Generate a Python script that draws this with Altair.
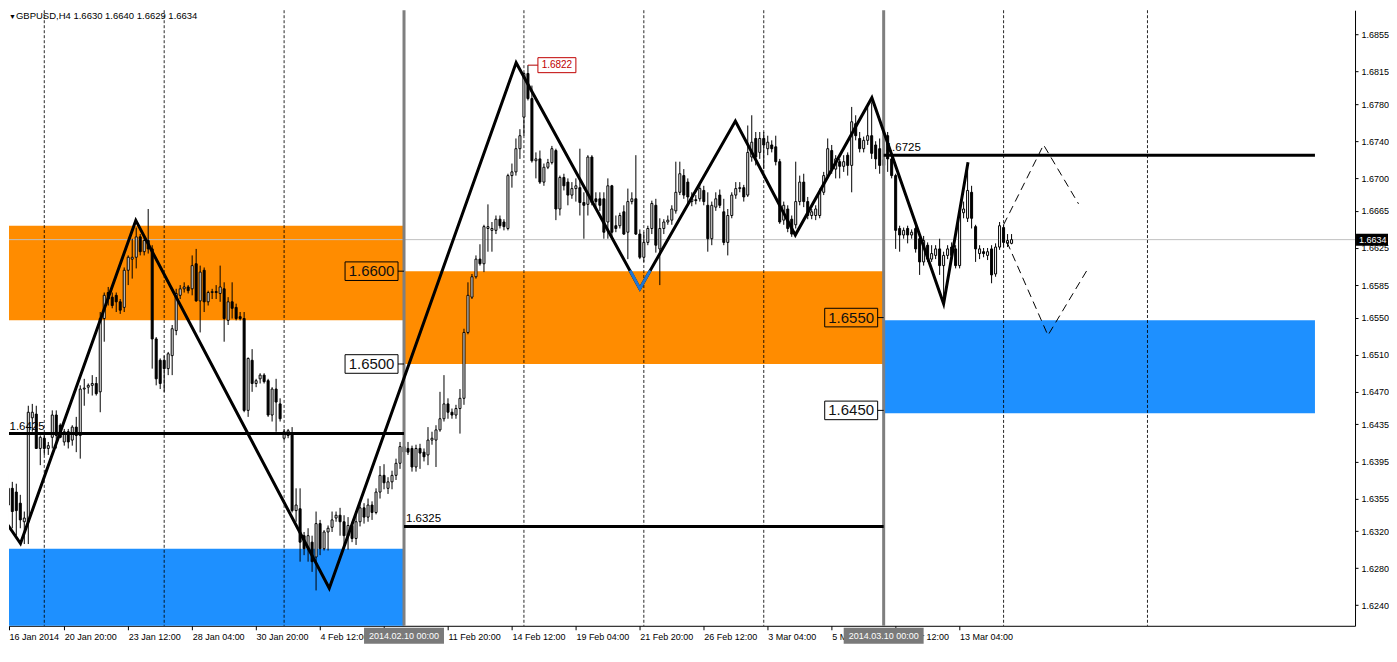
import altair as alt
import pandas as pd

FONT = "Liberation Sans"
W, H = 1347, 616

# ---------------- candles (H4 bars, index 0 = 16 Jan 2014 08:00) ----------------
OPEN = [
    1.6351, 1.6348, 1.6366, 1.6362, 1.6350, 1.6330, 1.6330, 1.6442, 1.6446, 1.6409,
    1.6420, 1.6409, 1.6421, 1.6445, 1.6434, 1.6416, 1.6427, 1.6418, 1.6432, 1.6423,
    1.6473, 1.6475, 1.6477, 1.6479, 1.6470, 1.6549, 1.6577, 1.6572, 1.6574, 1.6567,
    1.6561, 1.6601, 1.6613, 1.6615, 1.6637, 1.6621, 1.6633, 1.6624, 1.6527, 1.6504,
    1.6504, 1.6495, 1.6509, 1.6536, 1.6574, 1.6581, 1.6583, 1.6581, 1.6608, 1.6568,
    1.6601, 1.6567, 1.6577, 1.6578, 1.6576, 1.6581, 1.6547, 1.6567, 1.6561, 1.6551,
    1.6549, 1.6450, 1.6504, 1.6479, 1.6484, 1.6488, 1.6482, 1.6445, 1.6473, 1.6457,
    1.6420, 1.6423, 1.6425, 1.6342, 1.6344, 1.6315, 1.6301, 1.6308, 1.6292, 1.6328,
    1.6301, 1.6319, 1.6324, 1.6334, 1.6337, 1.6330, 1.6315, 1.6326, 1.6312, 1.6330,
    1.6345, 1.6335, 1.6348, 1.6340, 1.6362, 1.6380, 1.6366, 1.6373, 1.6380, 1.6393,
    1.6411, 1.6409, 1.6409, 1.6389, 1.6409, 1.6405, 1.6402, 1.6418, 1.6418, 1.6429,
    1.6441, 1.6457, 1.6448, 1.6445, 1.6452, 1.6463, 1.6534, 1.6572, 1.6594, 1.6613,
    1.6608, 1.6646, 1.6644, 1.6644, 1.6656, 1.6653, 1.6646, 1.6703, 1.6707, 1.6732,
    1.6766, 1.6813, 1.6786, 1.6719, 1.6721, 1.6696, 1.6712, 1.6717, 1.6730, 1.6667,
    1.6701, 1.6696, 1.6682, 1.6689, 1.6690, 1.6674, 1.6672, 1.6723, 1.6678, 1.6678,
    1.6678, 1.6653, 1.6692, 1.6649, 1.6649, 1.6664, 1.6642, 1.6675, 1.6678, 1.6640,
    1.6615, 1.6631, 1.6646, 1.6671, 1.6624, 1.6646, 1.6653, 1.6655, 1.6665, 1.6685,
    1.6703, 1.6696, 1.6675, 1.6677, 1.6678, 1.6687, 1.6671, 1.6635, 1.6669, 1.6682,
    1.6664, 1.6631, 1.6660, 1.6682, 1.6689, 1.6690, 1.6682, 1.6723, 1.6743, 1.6728,
    1.6743, 1.6732, 1.6736, 1.6734, 1.6718, 1.6655, 1.6667, 1.6656, 1.6650, 1.6675,
    1.6696, 1.6675, 1.6660, 1.6660, 1.6660, 1.6685, 1.6703, 1.6730, 1.6710, 1.6718,
    1.6713, 1.6725, 1.6714, 1.6759, 1.6743, 1.6732, 1.6741, 1.6746, 1.6736, 1.6732,
    1.6714, 1.6746, 1.6721, 1.6703, 1.6646, 1.6639, 1.6646, 1.6639, 1.6646, 1.6635,
    1.6610, 1.6628, 1.6613, 1.6617, 1.6624, 1.6606, 1.6617, 1.6626, 1.6624, 1.6606,
    1.6663, 1.6657, 1.6685, 1.6648, 1.6619, 1.6621, 1.6617, 1.6624, 1.6597, 1.6626,
    1.6647, 1.6630, 1.6630,
]
HIGH = [
    1.6366, 1.6382, 1.6373, 1.6371, 1.6359, 1.6341, 1.6455, 1.6457, 1.6455, 1.6423,
    1.6423, 1.6416, 1.6450, 1.6450, 1.6436, 1.6430, 1.6430, 1.6434, 1.6443, 1.6477,
    1.6484, 1.6479, 1.6488, 1.6486, 1.6556, 1.6577, 1.6583, 1.6577, 1.6577, 1.6570,
    1.6604, 1.6617, 1.6635, 1.6647, 1.6640, 1.6637, 1.6667, 1.6628, 1.6529, 1.6506,
    1.6509, 1.6513, 1.6542, 1.6581, 1.6585, 1.6588, 1.6585, 1.6617, 1.6624, 1.6606,
    1.6604, 1.6579, 1.6581, 1.6585, 1.6606, 1.6588, 1.6572, 1.6588, 1.6565, 1.6556,
    1.6556, 1.6507, 1.6516, 1.6484, 1.6490, 1.6490, 1.6484, 1.6475, 1.6484, 1.6463,
    1.6430, 1.6430, 1.6432, 1.6366, 1.6366, 1.6319, 1.6323, 1.6315, 1.6341, 1.6332,
    1.6321, 1.6326, 1.6341, 1.6341, 1.6345, 1.6337, 1.6335, 1.6330, 1.6340, 1.6352,
    1.6350, 1.6355, 1.6352, 1.6366, 1.6390, 1.6392, 1.6378, 1.6385, 1.6398, 1.6416,
    1.6418, 1.6416, 1.6412, 1.6413, 1.6414, 1.6409, 1.6432, 1.6427, 1.6434, 1.6470,
    1.6488, 1.6463, 1.6452, 1.6456, 1.6473, 1.6538, 1.6588, 1.6597, 1.6617, 1.6629,
    1.6650, 1.6672, 1.6653, 1.6660, 1.6660, 1.6656, 1.6705, 1.6716, 1.6743, 1.6753,
    1.6814, 1.6822, 1.6800, 1.6728, 1.6730, 1.6716, 1.6721, 1.6735, 1.6732, 1.6703,
    1.6705, 1.6700, 1.6696, 1.6700, 1.6732, 1.6685, 1.6725, 1.6725, 1.6685, 1.6685,
    1.6685, 1.6700, 1.6693, 1.6660, 1.6663, 1.6671, 1.6689, 1.6685, 1.6725, 1.6645,
    1.6642, 1.6649, 1.6676, 1.6678, 1.6657, 1.6656, 1.6660, 1.6671, 1.6718, 1.6718,
    1.6710, 1.6700, 1.6685, 1.6682, 1.6696, 1.6692, 1.6685, 1.6675, 1.6685, 1.6688,
    1.6678, 1.6667, 1.6685, 1.6696, 1.6696, 1.6693, 1.6757, 1.6768, 1.6750, 1.6750,
    1.6750, 1.6746, 1.6741, 1.6746, 1.6721, 1.6675, 1.6671, 1.6660, 1.6718, 1.6703,
    1.6705, 1.6680, 1.6667, 1.6671, 1.6689, 1.6707, 1.6743, 1.6736, 1.6725, 1.6721,
    1.6725, 1.6728, 1.6777, 1.6768, 1.6750, 1.6745, 1.6777, 1.6782, 1.6740, 1.6743,
    1.6745, 1.6750, 1.6725, 1.6705, 1.6649, 1.6647, 1.6649, 1.6645, 1.6649, 1.6639,
    1.6638, 1.6631, 1.6628, 1.6628, 1.6635, 1.6621, 1.6628, 1.6631, 1.6628, 1.6665,
    1.6675, 1.6717, 1.6692, 1.6650, 1.6628, 1.6625, 1.6625, 1.6628, 1.6630, 1.6653,
    1.6650, 1.6640, 1.6640,
]
LOW = [
    1.6323, 1.6326, 1.6323, 1.6315, 1.6323, 1.6306, 1.6306, 1.6427, 1.6409, 1.6391,
    1.6402, 1.6402, 1.6409, 1.6409, 1.6420, 1.6412, 1.6409, 1.6412, 1.6405, 1.6398,
    1.6455, 1.6468, 1.6466, 1.6466, 1.6448, 1.6524, 1.6563, 1.6560, 1.6556, 1.6554,
    1.6556, 1.6585, 1.6592, 1.6603, 1.6617, 1.6617, 1.6619, 1.6495, 1.6477, 1.6473,
    1.6470, 1.6488, 1.6488, 1.6531, 1.6570, 1.6577, 1.6576, 1.6574, 1.6567, 1.6534,
    1.6556, 1.6563, 1.6570, 1.6570, 1.6567, 1.6524, 1.6542, 1.6549, 1.6547, 1.6547,
    1.6448, 1.6443, 1.6470, 1.6475, 1.6479, 1.6479, 1.6443, 1.6438, 1.6427, 1.6438,
    1.6418, 1.6420, 1.6340, 1.6330, 1.6287, 1.6294, 1.6287, 1.6276, 1.6256, 1.6294,
    1.6299, 1.6299, 1.6319, 1.6330, 1.6315, 1.6305, 1.6300, 1.6308, 1.6305, 1.6325,
    1.6328, 1.6330, 1.6332, 1.6338, 1.6355, 1.6365, 1.6360, 1.6365, 1.6375, 1.6387,
    1.6398, 1.6402, 1.6384, 1.6384, 1.6387, 1.6395, 1.6391, 1.6413, 1.6389, 1.6427,
    1.6438, 1.6441, 1.6441, 1.6441, 1.6425, 1.6456, 1.6532, 1.6570, 1.6592, 1.6606,
    1.6599, 1.6621, 1.6621, 1.6640, 1.6646, 1.6644, 1.6644, 1.6690, 1.6703, 1.6721,
    1.6746, 1.6784, 1.6717, 1.6700, 1.6694, 1.6692, 1.6710, 1.6715, 1.6655, 1.6660,
    1.6687, 1.6671, 1.6678, 1.6675, 1.6660, 1.6635, 1.6660, 1.6671, 1.6667, 1.6665,
    1.6635, 1.6635, 1.6635, 1.6642, 1.6646, 1.6639, 1.6613, 1.6672, 1.6639, 1.6613,
    1.6610, 1.6628, 1.6640, 1.6620, 1.6585, 1.6640, 1.6650, 1.6650, 1.6662, 1.6682,
    1.6678, 1.6672, 1.6670, 1.6672, 1.6675, 1.6671, 1.6621, 1.6628, 1.6665, 1.6668,
    1.6628, 1.6617, 1.6657, 1.6678, 1.6685, 1.6675, 1.6680, 1.6718, 1.6714, 1.6721,
    1.6710, 1.6725, 1.6728, 1.6714, 1.6651, 1.6650, 1.6642, 1.6637, 1.6646, 1.6671,
    1.6669, 1.6656, 1.6656, 1.6655, 1.6657, 1.6682, 1.6700, 1.6705, 1.6700, 1.6700,
    1.6707, 1.6703, 1.6685, 1.6741, 1.6728, 1.6728, 1.6736, 1.6721, 1.6710, 1.6705,
    1.6705, 1.6707, 1.6700, 1.6624, 1.6621, 1.6635, 1.6630, 1.6635, 1.6620, 1.6596,
    1.6606, 1.6610, 1.6610, 1.6613, 1.6596, 1.6566, 1.6613, 1.6612, 1.6603, 1.6603,
    1.6657, 1.6653, 1.6646, 1.6610, 1.6613, 1.6615, 1.6612, 1.6587, 1.6594, 1.6623,
    1.6626, 1.6626, 1.6629,
]
CLOSE = [
    1.6344, 1.6366, 1.6341, 1.6342, 1.6332, 1.6334, 1.6448, 1.6448, 1.6409, 1.6421,
    1.6409, 1.6412, 1.6445, 1.6423, 1.6421, 1.6427, 1.6416, 1.6432, 1.6423, 1.6473,
    1.6474, 1.6477, 1.6479, 1.6468, 1.6549, 1.6574, 1.6570, 1.6563, 1.6567, 1.6558,
    1.6601, 1.6615, 1.6615, 1.6637, 1.6621, 1.6633, 1.6624, 1.6527, 1.6484, 1.6479,
    1.6495, 1.6511, 1.6538, 1.6576, 1.6581, 1.6583, 1.6579, 1.6606, 1.6568, 1.6599,
    1.6567, 1.6577, 1.6578, 1.6577, 1.6583, 1.6549, 1.6567, 1.6560, 1.6549, 1.6549,
    1.6450, 1.6506, 1.6479, 1.6482, 1.6488, 1.6481, 1.6445, 1.6473, 1.6459, 1.6441,
    1.6427, 1.6428, 1.6342, 1.6348, 1.6308, 1.6301, 1.6315, 1.6287, 1.6328, 1.6301,
    1.6319, 1.6323, 1.6332, 1.6337, 1.6330, 1.6315, 1.6326, 1.6312, 1.6330, 1.6345,
    1.6335, 1.6348, 1.6340, 1.6362, 1.6380, 1.6372, 1.6373, 1.6380, 1.6393, 1.6411,
    1.6405, 1.6405, 1.6389, 1.6409, 1.6404, 1.6400, 1.6418, 1.6420, 1.6429, 1.6441,
    1.6457, 1.6448, 1.6445, 1.6452, 1.6463, 1.6534, 1.6574, 1.6594, 1.6613, 1.6608,
    1.6648, 1.6648, 1.6646, 1.6656, 1.6649, 1.6648, 1.6703, 1.6707, 1.6732, 1.6746,
    1.6813, 1.6786, 1.6719, 1.6721, 1.6696, 1.6712, 1.6717, 1.6732, 1.6667, 1.6701,
    1.6692, 1.6682, 1.6689, 1.6692, 1.6674, 1.6671, 1.6723, 1.6674, 1.6675, 1.6671,
    1.6642, 1.6692, 1.6642, 1.6646, 1.6660, 1.6640, 1.6675, 1.6678, 1.6640, 1.6615,
    1.6631, 1.6646, 1.6673, 1.6628, 1.6646, 1.6653, 1.6655, 1.6667, 1.6685, 1.6705,
    1.6682, 1.6680, 1.6678, 1.6676, 1.6689, 1.6675, 1.6635, 1.6671, 1.6678, 1.6671,
    1.6631, 1.6660, 1.6682, 1.6689, 1.6690, 1.6680, 1.6728, 1.6739, 1.6723, 1.6743,
    1.6736, 1.6739, 1.6732, 1.6718, 1.6653, 1.6671, 1.6646, 1.6640, 1.6675, 1.6696,
    1.6675, 1.6660, 1.6664, 1.6667, 1.6685, 1.6703, 1.6732, 1.6710, 1.6721, 1.6713,
    1.6718, 1.6714, 1.6761, 1.6746, 1.6732, 1.6741, 1.6746, 1.6727, 1.6721, 1.6714,
    1.6720, 1.6721, 1.6703, 1.6644, 1.6639, 1.6644, 1.6639, 1.6642, 1.6624, 1.6610,
    1.6633, 1.6613, 1.6619, 1.6624, 1.6606, 1.6617, 1.6624, 1.6617, 1.6606, 1.6663,
    1.6667, 1.6687, 1.6657, 1.6624, 1.6624, 1.6619, 1.6621, 1.6596, 1.6626, 1.6649,
    1.6631, 1.6633, 1.6634,
]

# ---------------- annotations ----------------
ZONE_X0 = [-3, -3, 100, 220]
ZONE_X1 = [100, 100, 220, 327.9]
ZONE_LO = [1.6547, 1.6150, 1.6500, 1.6447]
ZONE_HI = [1.6649, 1.6301, 1.6600, 1.6547]
ZONE_COLOR = ["#FF8C00", "#1E90FF", "#FF8C00", "#1E90FF"]

LEVEL_P = [1.6425, 1.6325, 1.6725]
LEVEL_X0 = [-3, 100, 220]
LEVEL_X1 = [100, 220, 327.9]
LEVEL_LABEL_X = [1.3, 100.5, 220.5]
LEVEL_TEXT = ["1.6425", "1.6325", "1.6725"]

ZZ_I = [-0.8, 4.05, 32.9, 81.3, 128.05, 159.0, 182.9, 197.9, 217.05, 235.0, 241.1]
ZZ_P = [1.63374, 1.63065, 1.66547, 1.62583, 1.68246, 1.65811, 1.67617, 1.66389, 1.67870, 1.65649, 1.67175]
BLUE_I = [156.55, 159.0, 161.6]
BLUE_P = [1.66007, 1.65811, 1.66007]

PROJ_UP_I = [250.0, 260.0, 268.75]
PROJ_UP_P = [1.6650, 1.67361, 1.66726]
PROJ_DN_I = [250.85, 261.1, 270.85]
PROJ_DN_P = [1.66314, 1.65309, 1.66009]

WEEK_I = [10, 40, 70, 130, 160, 190, 250, 286]
MONTH_I = [100, 220]
MONTH_TEXT = ["2014.02.10 00:00", "2014.03.10 00:00"]

LAST_PRICE = 1.6634

BOX_I = [100, 100, 220, 220]
BOX_P = [1.6600, 1.6500, 1.6550, 1.6450]
BOX_TEXT = ["1.6600", "1.6500", "1.6550", "1.6450"]

HIGH_I = [131]
HIGH_P = [1.6822]
HIGH_TEXT = ["1.6822"]

X_TICKS = [1.2, 15, 31, 47, 63, 79, 95, 111, 127, 143, 159, 175, 191, 207, 223, 239]
X_LABELS = ["16 Jan 2014", "20 Jan 20:00", "23 Jan 12:00", "28 Jan 04:00", "30 Jan 20:00",
            "4 Feb 12:00", "", "11 Feb 20:00", "14 Feb 12:00", "19 Feb 04:00",
            "21 Feb 20:00", "26 Feb 12:00", "3 Mar 04:00", "5 Mar 20:00", "10 Mar 12:00",
            "13 Mar 04:00"]
Y_TICKS = [1.6855, 1.6815, 1.6780, 1.6740, 1.6700, 1.6665, 1.6625, 1.6585, 1.6550,
           1.6510, 1.6470, 1.6435, 1.6395, 1.6355, 1.6320, 1.6280, 1.6240]
TITLE = "GBPUSD,H4  1.6630 1.6640 1.6629 1.6634"

X_DOMAIN = [1.175, 337.925]
Y_DOMAIN = [1.62179, 1.68812]

# pixel -> data unit helpers (for label box sizes only)
BAR_PX = W / (X_DOMAIN[1] - X_DOMAIN[0])
PX_PRICE = (Y_DOMAIN[1] - Y_DOMAIN[0]) / H

xs = alt.Scale(domain=X_DOMAIN, nice=False, zero=False, padding=0)
ys = alt.Scale(domain=Y_DOMAIN, nice=False, zero=False, padding=0)

label_expr = " : ".join(
    f"datum.value == {v} ? '{t}'" for v, t in zip(X_TICKS, X_LABELS)
) + " : ''"

x_axis = alt.Axis(values=X_TICKS, labelExpr=label_expr, labelAlign="left", labelBaseline="top",
                  labelPadding=3, tickSize=4, tickColor="black", domainColor="black",
                  labelFont=FONT, labelFontSize=9, labelColor="black", grid=False,
                  title=None, labelOverlap=False, labelFlush=False)
y_axis = alt.Axis(orient="right", values=Y_TICKS, format=".4f", tickSize=3, tickColor="black",
                  domainColor="black", labelFont=FONT, labelFontSize=9, labelColor="black",
                  labelPadding=3, grid=False, title=None, labelOverlap=False, labelFlush=False)


def X(f):
    return alt.X(f, type="quantitative", scale=xs, axis=x_axis, title=None)


def Y(f):
    return alt.Y(f, type="quantitative", scale=ys, axis=y_axis, title=None)


# ---------------- frames ----------------
cdf = pd.DataFrame({"i": list(range(len(OPEN))), "o": OPEN, "h": HIGH, "l": LOW, "c": CLOSE})
cdf["fill"] = ["white" if c >= o else "black" for o, c in zip(cdf.o, cdf.c)]

zones = pd.DataFrame({"x0": ZONE_X0, "x1": ZONE_X1, "lo": ZONE_LO, "hi": ZONE_HI, "col": ZONE_COLOR})
levels = pd.DataFrame({"x0": LEVEL_X0, "x1": LEVEL_X1, "p": LEVEL_P, "lx": LEVEL_LABEL_X, "t": LEVEL_TEXT})
zz = pd.DataFrame({"i": ZZ_I, "p": ZZ_P, "k": list(range(len(ZZ_I)))})
blue = pd.DataFrame({"i": BLUE_I, "p": BLUE_P, "k": list(range(len(BLUE_I)))})
proj = pd.DataFrame({
    "i": PROJ_UP_I + PROJ_DN_I,
    "p": PROJ_UP_P + PROJ_DN_P,
    "g": ["up"] * len(PROJ_UP_I) + ["dn"] * len(PROJ_DN_I),
    "k": list(range(len(PROJ_UP_I))) + list(range(len(PROJ_DN_I))),
})
weeks = pd.DataFrame({"i": WEEK_I})
months = pd.DataFrame({"i": MONTH_I, "t": MONTH_TEXT})
months["x0"] = months.i - 40 / BAR_PX
months["x1"] = months.i + 40 / BAR_PX
last = pd.DataFrame({"p": [LAST_PRICE], "t": [f"{LAST_PRICE:.4f}"]})
last["lo"] = last.p - 6 * PX_PRICE
last["hi"] = last.p + 6 * PX_PRICE
boxes = pd.DataFrame({"i": BOX_I, "p": BOX_P, "t": BOX_TEXT})
boxes["x0"] = boxes.i - 59 / BAR_PX
boxes["x1"] = boxes.i - 6 / BAR_PX
boxes["xm"] = (boxes.x0 + boxes.x1) / 2
boxes["lo"] = boxes.p - 9.3 * PX_PRICE
boxes["hi"] = boxes.p + 9.3 * PX_PRICE
hi_df = pd.DataFrame({"i": HIGH_I, "p": HIGH_P, "t": HIGH_TEXT})
hi_df["x0"] = hi_df.i + 10 / BAR_PX
hi_df["x1"] = hi_df.i + 48 / BAR_PX
hi_df["xm"] = (hi_df.x0 + hi_df.x1) / 2
hi_df["lo"] = hi_df.p - 7.5 * PX_PRICE
hi_df["hi"] = hi_df.p + 7.5 * PX_PRICE
title_df = pd.DataFrame({"t": [TITLE], "a": ["▼"]})

# ---------------- layers ----------------
l_wicks = alt.Chart(cdf).mark_rule(color="black", strokeWidth=1, clip=True).encode(
    x=X("i"), y=Y("l"), y2="h:Q")
l_zones = alt.Chart(zones).mark_rect(clip=True).encode(
    x=X("x0"), x2="x1", y=Y("lo"), y2="hi", color=alt.Color("col:N", scale=None))
l_weeks = alt.Chart(weeks).mark_rule(color="black", strokeWidth=1, strokeDash=[3, 2], opacity=0.85).encode(x=X("i"))
l_last = alt.Chart(last).mark_rule(color="#c0c0c0", strokeWidth=1).encode(y=Y("p"))
l_bodies = alt.Chart(cdf).mark_bar(orient="vertical", size=2, stroke="black", strokeWidth=1, clip=True).encode(
    x=X("i"), y=Y("o"), y2="c", fill=alt.Fill("fill:N", scale=None))
l_months = alt.Chart(months).mark_rule(color="#7f7f7f", strokeWidth=3).encode(x=X("i"))
l_levels = alt.Chart(levels).mark_rule(color="black", strokeWidth=3, clip=True).encode(
    x=X("x0"), x2="x1", y=Y("p"))
l_level_t = alt.Chart(levels).mark_text(align="left", baseline="bottom", dy=-2, font=FONT,
                                         fontSize=11.5, color="black").encode(x=X("lx"), y=Y("p"), text="t:N")
l_zz = alt.Chart(zz).mark_line(color="black", strokeWidth=3, clip=True).encode(
    x=X("i"), y=Y("p"), order="k:Q")
l_blue = alt.Chart(blue).mark_line(color="#2277d4", strokeWidth=3, clip=True).encode(
    x=X("i"), y=Y("p"), order="k:Q")
l_proj = alt.Chart(proj).mark_line(color="black", strokeWidth=1, strokeDash=[8, 5], clip=True).encode(
    x=X("i"), y=Y("p"), detail="g:N", order="k:Q")
l_box_conn = alt.Chart(boxes).mark_rule(color="black", strokeWidth=1).encode(x=X("x1"), x2="i", y=Y("p"))
l_box = alt.Chart(boxes).mark_rect(fill=None, stroke="black", strokeWidth=1).encode(
    x=X("x0"), x2="x1", y=Y("lo"), y2="hi")
l_box_t = alt.Chart(boxes).mark_text(font=FONT, fontSize=15, color="#111111", baseline="middle").encode(
    x=X("xm"), y=Y("p"), text="t:N")
l_hi_conn = alt.Chart(hi_df).mark_rule(color="#b00000", strokeWidth=1).encode(x=X("i"), x2="x0", y=Y("p"))
l_hi_box = alt.Chart(hi_df).mark_rect(fill="white", stroke="#c00000", strokeWidth=1).encode(
    x=X("x0"), x2="x1", y=Y("lo"), y2="hi")
l_hi_t = alt.Chart(hi_df).mark_text(font=FONT, fontSize=10, color="#c00000", baseline="middle").encode(
    x=X("xm"), y=Y("p"), text="t:N")
l_title_a = alt.Chart(title_df).mark_text(align="left", baseline="top", font=FONT, fontSize=7,
                                          color="black").encode(x=alt.value(0), y=alt.value(3), text="a:N")
l_title = alt.Chart(title_df).mark_text(align="left", baseline="top", font=FONT, fontSize=9.5,
                                        color="black").encode(x=alt.value(7), y=alt.value(1), text="t:N")
l_mbox = alt.Chart(months).mark_rect(color="#7a7a7a", clip=False).encode(
    x=X("x0"), x2="x1", y=alt.value(H + 2), y2=alt.value(H + 18))
l_mbox_t = alt.Chart(months).mark_text(font=FONT, fontSize=9, color="white", baseline="middle",
                                       clip=False).encode(x=X("i"), y=alt.value(H + 10), text="t:N")
l_lbox = alt.Chart(last).mark_rect(color="black", clip=False).encode(
    x=alt.value(W + 1), x2=alt.value(W + 33), y=Y("lo"), y2="hi")
l_lbox_t = alt.Chart(last).mark_text(font=FONT, fontSize=9, color="white", align="left",
                                     baseline="middle", clip=False).encode(
    x=alt.value(W + 4), y=Y("p"), text="t:N")

chart = alt.layer(
    l_zones, l_last, l_weeks, l_wicks, l_bodies, l_months, l_levels, l_level_t,
    l_zz, l_blue, l_proj, l_box_conn, l_box, l_box_t, l_hi_conn, l_hi_box, l_hi_t,
    l_title_a, l_title, l_mbox, l_mbox_t, l_lbox, l_lbox_t,
).properties(
    width=W, height=H, padding={"left": 0, "top": 0, "right": 0, "bottom": 0}, background="white"
).configure_view(stroke=None)

chart.save("out.html", embed_options={"renderer": "svg", "actions": False})
